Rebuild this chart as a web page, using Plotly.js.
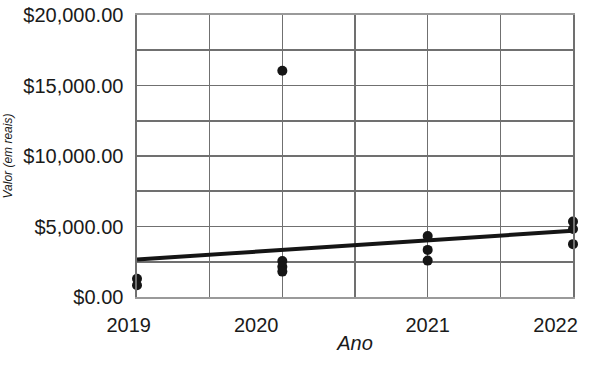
<!DOCTYPE html>
<html>
<head>
<meta charset="utf-8">
<script src="https://cdn.plot.ly/plotly-3.0.1.min.js"></script>
<style>html,body{margin:0;padding:0;background:#fff;}#chart{width:592px;height:368px;}</style>
</head>
<body>
<div id="chart"></div>
<script>
// Data
const pointYears = [2019, 2019, 2020, 2020, 2020, 2020, 2021, 2021, 2021, 2022, 2022, 2022];
const pointValues = [1300, 830, 16050, 2550, 2150, 1800, 4320, 3340, 2580, 5350, 4820, 3750];
const trendYears = [2019, 2022];
const trendValues = [2660, 4700];
const yearLabels = ['2019\u00a0\u00a0\u00a0', '2020', '2021', '2022'];
const yTickValues = [0, 2500, 5000, 7500, 10000, 12500, 15000, 17500, 20000];
const yTickLabels = ['$0.00', '', '$5,000.00', '', '$10,000.00', '', '$15,000.00', '', '$20,000.00'];

const gridYears = [2019, 2019.5, 2020, 2020.5, 2021, 2021.5, 2022];
const labelPos = [2019.0, 2019.82, 2021.0, 2021.88];

const FONT = '"Liberation Sans", Arial, sans-serif';
const GRID = '#707070';

const traces = [
  {
    x: trendYears, y: trendValues, type: 'scatter', mode: 'lines',
    line: {color: '#151515', width: 4}, hoverinfo: 'skip', showlegend: false, cliponaxis: false
  },
  {
    x: pointYears, y: pointValues, type: 'scatter', mode: 'markers',
    marker: {color: '#151515', size: 10}, showlegend: false, cliponaxis: false
  },
  {
    x: [], y: [], xaxis: 'x2', yaxis: 'y', type: 'scatter', showlegend: false
  }
];

const layout = {
  width: 592, height: 368,
  margin: {l: 137, r: 19, t: 15, b: 71, pad: 0},
  paper_bgcolor: '#ffffff', plot_bgcolor: '#ffffff',
  font: {family: FONT, size: 20, color: '#1a1a1a'},
  showlegend: false,
  xaxis: {
    range: [2019, 2022], tickmode: 'array', tickvals: gridYears,
    ticktext: gridYears.map(() => ''), ticks: '',
    showgrid: true, gridcolor: GRID, gridwidth: 1.6,
    zeroline: false, showline: true, linecolor: '#9a9a9a', linewidth: 1.6, mirror: true,
    fixedrange: true
  },
  xaxis2: {
    overlaying: 'x', anchor: 'y', side: 'bottom',
    range: [2019, 2022], tickmode: 'array', tickvals: labelPos, ticktext: yearLabels,
    ticks: '', showgrid: false, zeroline: false, showline: false,
    ticklabelstandoff: 14,
    tickfont: {family: FONT, size: 20, color: '#1a1a1a'},
    title: {text: 'Ano', font: {family: FONT, size: 20, color: '#1a1a1a', style: 'italic'}, standoff: 0},
    fixedrange: true
  },
  yaxis: {
    range: [0, 20000], tickmode: 'array', tickvals: yTickValues, ticktext: yTickLabels,
    ticks: '', showgrid: true, gridcolor: GRID, gridwidth: 1.6,
    zeroline: false, showline: true, linecolor: GRID, linewidth: 1.6, mirror: true,
    ticklabelstandoff: 8,
    tickfont: {family: FONT, size: 20, color: '#1a1a1a'},
    title: {text: 'Valor (em reais)', font: {family: FONT, size: 12, color: '#1a1a1a', style: 'italic'}, standoff: 8},
    fixedrange: true
  }
};

Plotly.newPlot('chart', traces, layout, {displayModeBar: false, staticPlot: true});
</script>
</body>
</html>
